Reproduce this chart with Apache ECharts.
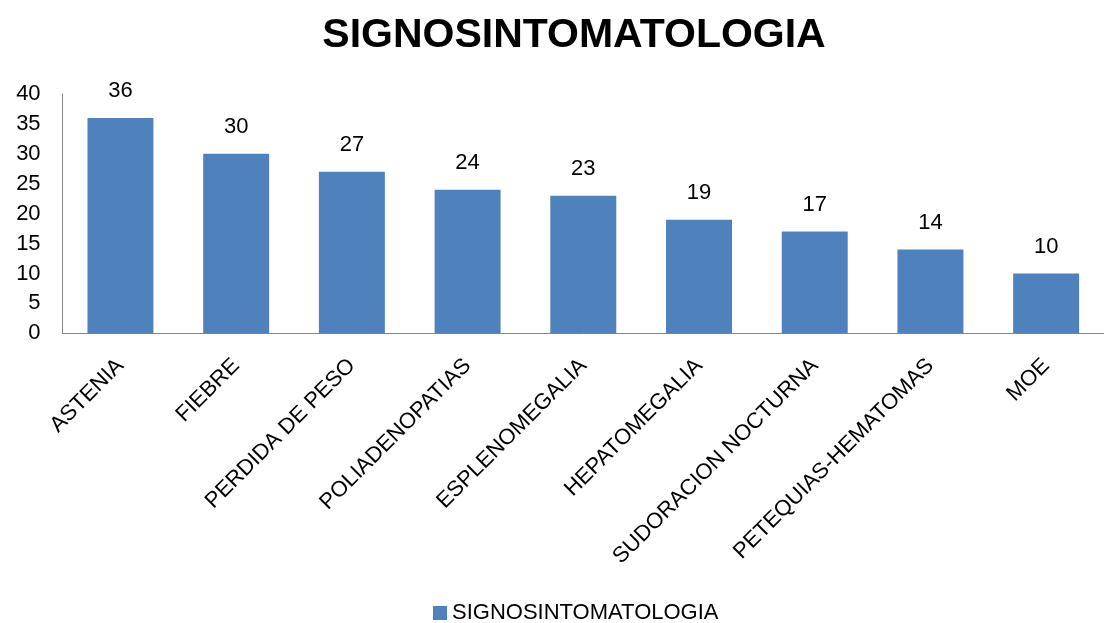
<!DOCTYPE html>
<html>
<head>
<meta charset="utf-8">
<script src="https://cdn.jsdelivr.net/npm/echarts@6/dist/echarts.min.js"></script>
<style>
    html, body { margin: 0; padding: 0; background: #fff; }
    #chart { width: 1104px; height: 623px; }
</style>
</head>
<body>
<div id="chart"></div>
<script>
// datos del grafico
var categorias = ['ASTENIA', 'FIEBRE', 'PERDIDA DE PESO', 'POLIADENOPATIAS', 'ESPLENOMEGALIA',
    'HEPATOMEGALIA', 'SUDORACION NOCTURNA', 'PETEQUIAS-HEMATOMAS', 'MOE'];
var valores = [36, 30, 27, 24, 23, 19, 17, 14, 10];
var nombreSerie = 'SIGNOSINTOMATOLOGIA';

(function () {
    let myechart = echarts.init(document.getElementById('chart'));
    var fuente = 'Liberation Sans';
    var option = {
        animation: false,
        title: {
            text: 'SIGNOSINTOMATOLOGIA',
            left: 569,
            textAlign: 'center',
            top: 10,
            textStyle: {
                fontFamily: fuente,
                fontSize: 41,
                fontWeight: 'bold',
                color: '#000'
            }
        },
        legend: {
            bottom: -6,
            left: 428,
            itemWidth: 14,
            itemHeight: 14,
            itemGap: 8,
            icon: 'rect',
            textStyle: {
                fontFamily: fuente,
                fontSize: 22,
                color: '#000'
            },
            data: [nombreSerie]
        },
        grid: {
            left: 62.6,
            right: -11.7,
            top: 94,
            bottom: 289.7,
            containLabel: false
        },
        xAxis: {
            type: 'category',
            data: categorias,
            axisTick: { show: false },
            axisLine: {
                lineStyle: { color: '#868686', width: 1 }
            },
            axisLabel: {
                rotate: 45,
                interval: 0,
                margin: 29,
                fontFamily: fuente,
                fontSize: 22,
                color: '#000'
            }
        },
        yAxis: {
            type: 'value',
            min: 0,
            max: 40,
            interval: 5,
            axisTick: { show: false },
            axisLine: {
                show: true,
                lineStyle: { color: '#868686', width: 1 }
            },
            splitLine: { show: false },
            axisLabel: {
                margin: 22,
                fontFamily: fuente,
                fontSize: 22,
                color: '#000'
            }
        },
        series: [
            {
                name: nombreSerie,
                type: 'bar',
                data: valores,
                barWidth: '57%',
                itemStyle: {
                    color: '#4f81bd'
                },
                label: {
                    show: true,
                    position: 'top',
                    distance: 16,
                    fontFamily: fuente,
                    fontSize: 22,
                    color: '#000'
                }
            }
        ]
    };
    myechart.setOption(option);
})();
</script>
</body>
</html>
